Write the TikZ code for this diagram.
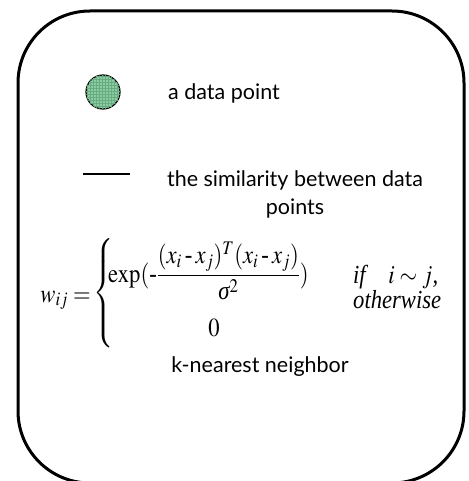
\documentclass[tikz,border=0pt]{standalone}
\usepackage{graphicx}
\usepackage{mathptmx}
\usepackage[no-math]{fontspec}
\setmainfont{Liberation Serif}
\newfontfamily\gillfont{Lato}
\newfontfamily\timesfont{Liberation Serif}
\usetikzlibrary{patterns}

\definecolor{dotgreen}{RGB}{138,205,160}
\definecolor{gridgreen}{RGB}{105,170,130}
\newcommand{\squeeze}[1]{\scalebox{0.87}[1]{#1}}
\newcommand{\dash}{\mathbin{\mbox{-}}}
\newcommand{\itsigma}{\mbox{\timesfont\itshape σ}}

\begin{document}
\begin{tikzpicture}[x=1pt,y=-1pt,
  frame/.style={line width=3pt, rounded corners=72pt},
  dot/.style={circle, draw, line width=1.2pt, minimum size=34pt, inner sep=0pt, fill=dotgreen, postaction={pattern=grid, pattern color=gridgreen}},
  label/.style={font=\gillfont\fontsize{21.5}{28}\selectfont, inner sep=0pt, align=center},
  eq/.style={font=\timesfont\fontsize{26}{30}\selectfont, inner sep=0pt}
]
\useasboundingbox (0,0) rectangle (468,481);

% outer frame
\draw[frame] (18,11) rectangle (464,483);

% legend
\node[dot] (dot) at (103,92) {};
\node[label, anchor=west] (dotlbl) at (168,93) {a data point};

\coordinate (edgeA) at (83,174);
\coordinate (edgeB) at (130,174);
\draw[line width=1.2pt] (edgeA) -- (edgeB);
\node[label] (edgelbl) at (295,194) {the similarity between data\\points};

% weight formula
\node[eq, anchor=base east] (wij) at (91,302) {\squeeze{$w_{ij}=$}};
\node[eq] (brace) at (104,293) {\squeeze{$\left\{\vrule height 45pt depth 45pt width 0pt\right.$}};
\node[eq, anchor=base west] (expo) at (108,282) {\squeeze{$\exp(\mbox{-}\displaystyle\frac{(x_i\dash x_j)^T(x_i\dash x_j)}{\itsigma^2})$}};
\node[eq] (zero) at (214,328) {\squeeze{$0$}};
\node[eq, anchor=base west] (cond) at (353,283) {\squeeze{\itshape if\quad $i\sim j$,}};
\node[eq, anchor=base west] (other) at (353,308) {\squeeze{\itshape otherwise}};

\node[label] (knn) at (260,367) {k-nearest neighbor};

\end{tikzpicture}
\end{document}
